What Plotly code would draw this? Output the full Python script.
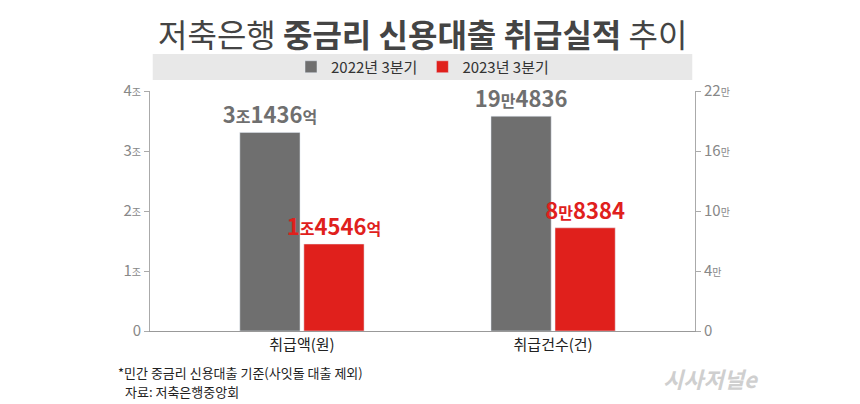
import plotly.graph_objects as go

categories = ["취급액(원)", "취급건수(건)"]
series_names = ["2022년 3분기", "2023년 3분기"]
# bar heights in the chart's (left) axis units, as drawn
heights_2022 = [3.31, 3.58]
heights_2023 = [1.45, 1.72]
labels_2022 = ["<b>3<span style='font-size:16px'>조</span>1436<span style='font-size:16px'>억</span></b>",
               "<b>19<span style='font-size:16px'>만</span>4836</b>"]
labels_2023 = ["<b>1<span style='font-size:16px'>조</span>4546<span style='font-size:16px'>억</span></b>",
               "<b>8<span style='font-size:16px'>만</span>8384</b>"]
left_ticks = [0, 1, 2, 3, 4]
left_ticktext = ["0", "1<span style='font-size:10px'>조</span>", "2<span style='font-size:10px'>조</span>",
                 "3<span style='font-size:10px'>조</span>", "4<span style='font-size:10px'>조</span>"]
right_ticktext = ["0", "4<span style='font-size:10px'>만</span>", "10<span style='font-size:10px'>만</span>",
                  "16<span style='font-size:10px'>만</span>", "22<span style='font-size:10px'>만</span>"]

GRAY = "#6f6f6f"
RED = "#e0201c"
font = "Noto Sans CJK KR"

fig = go.Figure()
fig.add_bar(x=categories, y=heights_2022, name=series_names[0], marker_color=GRAY,
            text=labels_2022, textposition="outside", cliponaxis=False, constraintext="none",
            textfont=dict(size=22, color=GRAY, family=font))
fig.add_bar(x=categories, y=heights_2023, name=series_names[1], marker_color=RED,
            text=labels_2023, textposition="outside", cliponaxis=False, constraintext="none",
            textfont=dict(size=22, color=RED, family=font))
fig.add_scatter(x=categories, y=[0, 0], yaxis="y2", mode="markers",
                marker_opacity=0, showlegend=False, hoverinfo="skip")

fig.update_layout(
    width=860, height=404, plot_bgcolor="white", paper_bgcolor="white",
    margin=dict(l=142, r=173, t=83, b=81),
    font=dict(family=font, color="#333"),
    barmode="group", bargap=0.49, bargroupgap=0.06,
    showlegend=True,
    legend=dict(orientation="h", x=0.5, xanchor="center", y=1.10, yanchor="middle",
                font=dict(size=15, color="#333"), bgcolor="rgba(0,0,0,0)"),
    xaxis=dict(showline=True, linecolor="#999", ticks="", tickfont=dict(size=15, color="#222"),
               range=[-0.605, 1.565], fixedrange=True),
    yaxis=dict(range=[0, 4], tickvals=left_ticks, ticktext=left_ticktext, showgrid=False,
               showline=True, linecolor="#aaa", ticks="outside", ticklen=5, tickcolor="#aaa",
               tickfont=dict(size=15, color="#888"), zeroline=False),
    yaxis2=dict(range=[0, 4], overlaying="y", side="right", tickvals=left_ticks,
                ticktext=right_ticktext, showgrid=False, showline=True, linecolor="#aaa",
                ticks="outside", ticklen=5, tickcolor="#aaa",
                tickfont=dict(size=15, color="#888"), zeroline=False),
)
fig.add_shape(type="rect", xref="paper", yref="paper", x0=0.005, x1=0.995, y0=1.046, y1=1.154,
              fillcolor="#e8e8e8", line_width=0, layer="below")
fig.add_annotation(text="저축은행 <b>중금리 신용대출 취급실적</b> 추이", xref="paper", x=0.5,
                   yref="paper", y=1.24, yanchor="middle", xanchor="center",
                   showarrow=False, font=dict(size=32, color="#444"))
fig.add_annotation(text="*민간 중금리 신용대출 기준(사잇돌 대출 제외)", xref="paper", x=-0.062, xanchor="left",
                   yref="paper", y=-0.171, yanchor="middle", showarrow=False,
                   font=dict(size=13, color="#222"))
fig.add_annotation(text="자료: 저축은행중앙회", xref="paper", x=-0.05, xanchor="left",
                   yref="paper", y=-0.254, yanchor="middle", showarrow=False,
                   font=dict(size=13, color="#222"))
fig.add_annotation(text="<b><i>시사저널e</i></b>", xref="paper", x=1.03, xanchor="center",
                   yref="paper", y=-0.196, yanchor="middle", showarrow=False,
                   font=dict(size=22, color="#cfcfcf"))
fig.write_html("out.html")
